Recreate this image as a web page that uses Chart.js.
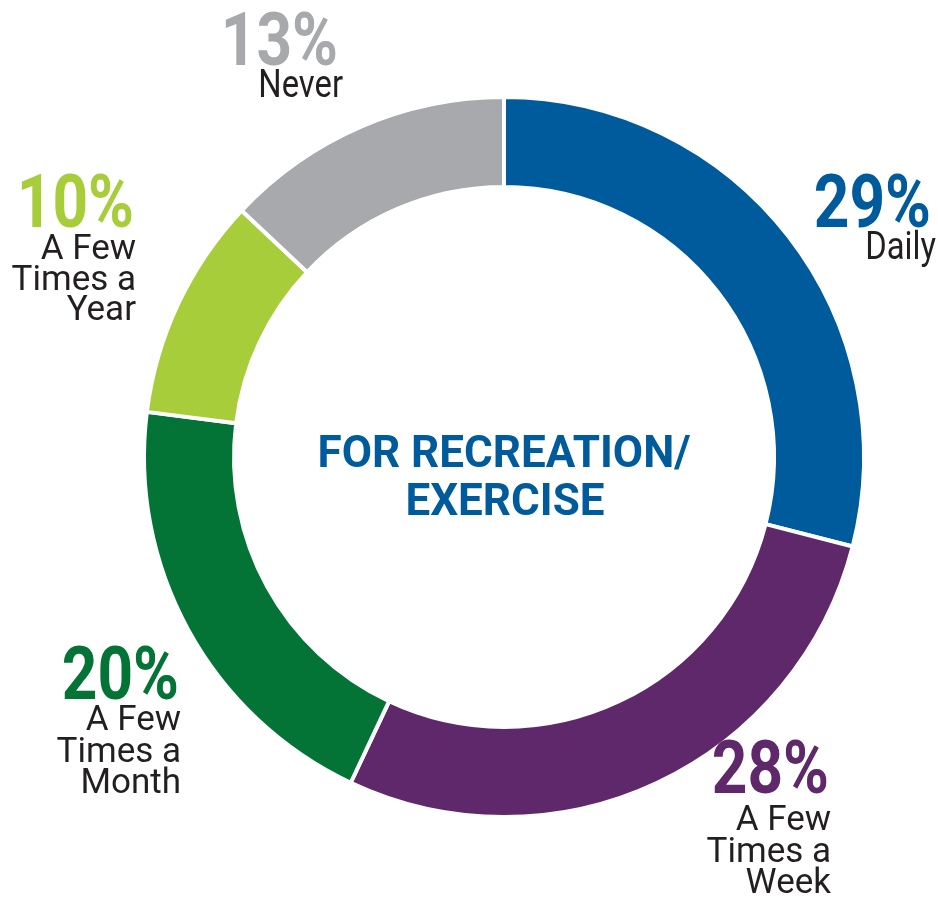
<!DOCTYPE html>
<html>
<head>
<meta charset="utf-8">
<script src="https://cdn.jsdelivr.net/npm/chart.js@4.4.1/dist/chart.umd.min.js"></script>
<style>
  html, body { margin: 0; padding: 0; background: #ffffff; }
  #wrap { width: 938px; height: 899px; position: relative; }
</style>
</head>
<body>
<div id="wrap"><canvas id="chart" width="938" height="899"></canvas></div>
<script>
// how often people ride for recreation / exercise
const categories = ['Daily', 'A Few Times a Week', 'A Few Times a Month', 'A Few Times a Year', 'Never'];
const shares = [29, 28, 20, 10, 13];
const sliceColors = ['#005b9d', '#5e286a', '#037435', '#a7cd3b', '#a7a9ac'];
const labelLines = [['Daily'], ['A Few', 'Times a', 'Week'], ['A Few', 'Times a', 'Month'], ['A Few', 'Times a', 'Year'], ['Never']];
const centerTitle = ['FOR RECREATION/', 'EXERCISE'];

// label block placement: right edge and baseline of the percent relative to the ring centre,
// then distance to the first text line and spacing between lines
const labelLayout = [
    { dx: 427, dy: -230, gap: 32, step: 31 },
    { dx: 325, dy: 336, gap: 37, step: 31.5 },
    { dx: -325, dy: 242, gap: 31, step: 31.5 },
    { dx: -370, dy: -230, gap: 32, step: 30.5 },
    { dx: -166, dy: -392, gap: 32, step: 31 }
];

function condensedText(ctx, text, x, y, sx) {
    ctx.save();
    ctx.translate(x, y);
    ctx.scale(sx, 1);
    ctx.fillText(text, 0, 0);
    ctx.restore();
}

const labelPlugin = {
    id: 'sliceLabels',
    afterDraw(chart) {
        const ctx = chart.ctx;
        const arc = chart.getDatasetMeta(0).data[0];
        const cx = arc.x, cy = arc.y;
        ctx.save();
        ctx.textAlign = 'right';
        ctx.textBaseline = 'alphabetic';
        shares.forEach((v, i) => {
            const pos = labelLayout[i];
            const x = cx + pos.dx, y = cy + pos.dy;
            ctx.fillStyle = sliceColors[i];
            ctx.font = 'bold 74px Roboto';
            condensedText(ctx, v + '%', x, y, 0.84);
            ctx.fillStyle = '#231f20';
            const lines = labelLines[i];
            if (lines.length === 1) {
                ctx.font = '39px Roboto';
                condensedText(ctx, lines[0], x + 5, y + pos.gap, 0.84);
            } else {
                ctx.font = '35px Roboto';
                lines.forEach((t, k) => {
                    condensedText(ctx, t, x + 2, y + pos.gap + k * pos.step, 1.0);
                });
            }
        });
        // title in the hole
        ctx.textAlign = 'center';
        ctx.fillStyle = '#005b9d';
        ctx.font = 'bold 44px Roboto';
        ctx.fillText(centerTitle[0], cx, cy + 10);
        ctx.fillText(centerTitle[1], cx + 1, cy + 58);
        ctx.restore();
    }
};

new Chart(document.getElementById('chart'), {
    type: 'doughnut',
    data: {
        labels: categories,
        datasets: [{
            data: shares,
            backgroundColor: sliceColors,
            borderColor: '#ffffff',
            borderWidth: 4
        }]
    },
    options: {
        responsive: false,
        animation: false,
        cutout: '75%',
        rotation: 0,
        layout: { padding: { left: 142, top: 95, right: 72, bottom: 80 } },
        plugins: {
            legend: { display: false },
            tooltip: { enabled: false }
        }
    },
    plugins: [labelPlugin]
});
</script>
</body>
</html>
